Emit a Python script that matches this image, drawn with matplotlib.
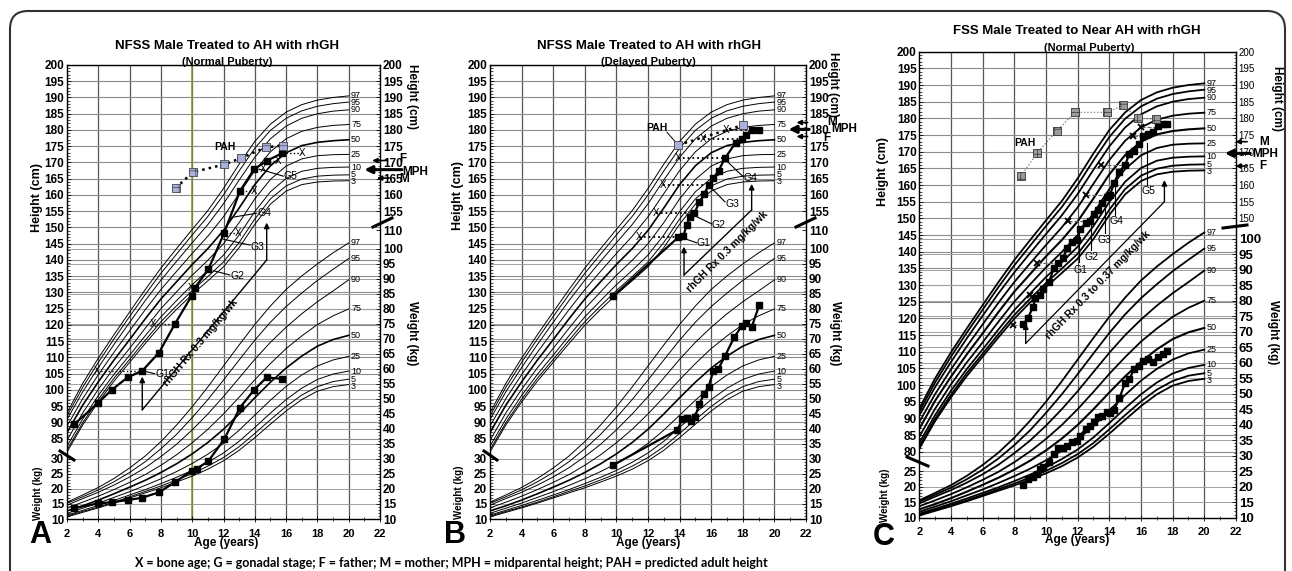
import matplotlib
matplotlib.use("Agg")
import matplotlib.pyplot as plt
import matplotlib.transforms as mtransforms
from matplotlib.lines import Line2D
from matplotlib.patches import FancyBboxPatch
from matplotlib.ticker import FixedLocator

plt.rcParams.update({
    "font.family": ["Liberation Sans", "DejaVu Sans"],
    "font.weight": "bold",
    "font.size": 8,
    "hatch.linewidth": 0.5,
})

W, H = 1292, 571

# ── CDC reference percentiles, boys 2-20 y ────────────────────────
ref_age = list(range(2, 21))
pct_labels = ["97", "95", "90", "75", "50", "25", "10", "5", "3"]

ht_p97 = [93.0, 102.0, 109.8, 117.0, 124.0, 130.9, 137.5, 143.5, 149.4, 155.2, 162.0, 169.5, 176.5, 181.8, 185.5, 187.8, 189.2, 190.0, 190.5]
ht_p95 = [92.0, 100.8, 108.5, 115.7, 122.6, 129.4, 135.9, 141.8, 147.7, 153.4, 160.0, 167.4, 174.4, 179.9, 183.6, 185.9, 187.3, 188.1, 188.6]
ht_p90 = [90.9, 99.4, 106.9, 114.0, 120.8, 127.5, 133.8, 139.6, 145.3, 150.9, 157.3, 164.6, 171.6, 177.3, 181.2, 183.6, 185.0, 185.8, 186.2]
ht_p75 = [88.9, 97.3, 104.7, 111.6, 118.2, 124.7, 130.9, 136.5, 142.0, 147.3, 153.3, 160.4, 167.5, 173.3, 177.3, 179.6, 180.8, 181.4, 181.7]
ht_p50 = [86.9, 95.3, 102.5, 109.2, 115.5, 121.9, 128.0, 133.3, 138.6, 143.5, 149.1, 156.0, 163.2, 169.0, 173.0, 175.2, 176.2, 176.7, 177.0]
ht_p25 = [84.5, 92.9, 100.2, 106.8, 112.8, 119.0, 125.0, 130.2, 135.3, 139.9, 145.0, 151.5, 158.8, 164.8, 168.9, 171.1, 172.1, 172.4, 172.5]
ht_p10 = [82.7, 91.0, 98.3, 104.8, 110.7, 116.7, 122.5, 127.5, 132.4, 136.8, 141.5, 147.7, 154.9, 161.0, 165.1, 167.3, 168.2, 168.5, 168.6]
ht_p5 = [81.6, 89.9, 97.1, 103.6, 109.4, 115.3, 121.0, 125.9, 130.6, 134.9, 139.4, 145.4, 152.6, 158.8, 162.8, 164.9, 165.8, 166.1, 166.2]
ht_p3 = [80.9, 89.2, 96.3, 102.7, 108.5, 114.3, 119.9, 124.8, 129.4, 133.6, 137.9, 143.8, 151.0, 157.2, 161.2, 163.2, 164.0, 164.3, 164.4]

wt_p97 = [15.6, 18.0, 20.5, 23.5, 27.0, 31.0, 35.8, 41.3, 47.4, 54.0, 61.0, 68.0, 74.8, 81.0, 86.5, 91.0, 95.0, 98.7, 102.0]
wt_p95 = [15.2, 17.4, 19.7, 22.4, 25.5, 29.1, 33.4, 38.2, 43.8, 49.8, 56.3, 63.0, 69.6, 75.6, 80.8, 85.3, 89.5, 93.2, 96.8]
wt_p90 = [14.6, 16.8, 18.9, 21.3, 24.0, 27.1, 30.8, 34.9, 39.7, 45.0, 50.8, 57.0, 63.2, 68.9, 73.9, 78.4, 82.4, 86.0, 89.7]
wt_p75 = [13.7, 15.6, 17.6, 19.8, 22.2, 24.8, 27.9, 31.4, 35.4, 39.9, 45.0, 50.6, 56.4, 61.8, 66.8, 71.0, 74.8, 77.7, 80.0]
wt_p50 = [12.7, 14.4, 16.3, 18.4, 20.6, 22.9, 25.5, 28.4, 31.7, 35.5, 39.9, 45.0, 50.4, 55.6, 60.3, 64.3, 67.6, 69.8, 71.2]
wt_p25 = [11.9, 13.6, 15.3, 17.2, 19.1, 21.2, 23.4, 25.8, 28.5, 31.6, 35.2, 39.6, 44.6, 49.6, 54.2, 58.0, 61.0, 63.0, 64.2]
wt_p10 = [11.3, 12.9, 14.5, 16.2, 18.0, 19.8, 21.8, 23.9, 26.2, 28.9, 32.0, 35.9, 40.5, 45.3, 49.8, 53.6, 56.5, 58.3, 59.3]
wt_p5 = [11.0, 12.5, 14.0, 15.6, 17.4, 19.2, 21.0, 23.0, 25.1, 27.6, 30.5, 34.1, 38.5, 43.1, 47.5, 51.3, 54.1, 55.8, 56.6]
wt_p3 = [10.7, 12.2, 13.7, 15.3, 17.0, 18.7, 20.4, 22.3, 24.3, 26.6, 29.4, 32.9, 37.1, 41.6, 46.0, 49.8, 52.6, 54.1, 54.8]

ht_curves = [ht_p97, ht_p95, ht_p90, ht_p75, ht_p50, ht_p25, ht_p10, ht_p5, ht_p3]
wt_curves = [wt_p97, wt_p95, wt_p90, wt_p75, wt_p50, wt_p25, wt_p10, wt_p5, wt_p3]

# ── Panel A: NFSS, normal puberty ─────────────────────────────────
a_age = [2.45, 3.96, 4.85, 5.88, 6.81, 7.88, 8.88, 9.97, 10.18, 11.03, 12.05, 13.05, 13.95, 14.76, 15.72]
a_ht = [89.4, 95.9, 100.0, 103.9, 105.9, 111.5, 120.2, 129.0, 131.5, 137.1, 148.4, 161.2, 167.9, 170.5, 172.8]
a_wt_age = [2.45, 3.96, 4.85, 5.88, 6.81, 7.88, 8.88, 9.97, 10.28, 11.03, 12.05, 13.05, 13.95, 14.76, 15.72]
a_wt = [13.6, 15.2, 15.6, 16.3, 17.1, 18.9, 22.2, 26.1, 26.7, 29.3, 36.6, 47.1, 53.0, 57.2, 56.7]
a_pah_age = [8.94, 10.03, 12.05, 13.1, 14.72, 15.78]
a_pah = [162.1, 167.0, 169.4, 171.3, 174.7, 175.2]
a_bone_age = [3.94, 7.47, 9.9, 12.95, 13.95, 14.55, 15.5, 17.0]
a_bone_chron = [6.81, 8.88, 10.18, 12.05, 13.05, 13.95, 14.76, 15.72]
a_bone_ht = [105.9, 120.2, 131.5, 148.4, 161.2, 167.9, 170.5, 172.8]
a_parents = {"F": 170.6, "MPH": 167.8, "M": 165.2}

# ── Panel B: NFSS, delayed puberty ────────────────────────────────
b_age = [9.81, 13.92, 14.24, 14.45, 14.66, 14.93, 15.25, 15.54, 15.86, 16.13, 16.47, 16.87, 17.55, 17.93, 18.2, 18.56, 19.04]
b_ht = [128.9, 147.0, 147.4, 150.8, 153.3, 154.4, 157.7, 160.2, 163.1, 165.1, 167.5, 171.3, 176.1, 177.1, 178.5, 180.0, 180.0]
b_wt_age = [9.81, 13.86, 14.17, 14.45, 14.72, 14.97, 15.25, 15.54, 15.84, 16.13, 16.45, 16.87, 17.46, 17.93, 18.2, 18.56, 19.04]
b_wt = [28.0, 39.7, 43.2, 43.6, 42.7, 43.9, 48.3, 51.6, 54.1, 59.3, 60.0, 64.3, 70.6, 74.3, 75.4, 73.9, 81.3]
b_pah_age = [13.92, 18.0]
b_pah = [175.4, 181.5]
b_bone_age = [11.45, 12.5, 12.97, 13.92, 15.46, 16.94]
b_bone_chron = [13.92, 14.93, 15.86, 16.87, 17.93, 18.56]
b_bone_ht = [147.0, 154.4, 163.1, 171.3, 177.1, 180.0]
b_parents = {"M": 182.3, "MPH": 180.2, "F": 178.0}

# ── Panel C: FSS, normal puberty ──────────────────────────────────
c_age = [8.57, 8.84, 9.2, 9.31, 9.62, 9.83, 10.19, 10.5, 10.78, 11.05, 11.35, 11.66, 11.94,
         12.15, 12.5, 12.78, 13.03, 13.31, 13.56, 13.83, 14.04, 14.29, 14.63, 14.99, 15.26,
         15.56, 15.89, 16.15, 16.46, 16.78, 17.05, 17.41, 17.66]
c_ht = [118.2, 120.0, 123.5, 126.0, 127.0, 128.7, 131.0, 135.0, 136.5, 138.0, 141.0, 143.0, 143.5,
        146.7, 148.5, 149.3, 151.3, 152.5, 154.5, 156.5, 157.0, 160.5, 164.0, 166.0, 169.2,
        170.3, 172.3, 174.7, 175.3, 176.0, 177.7, 178.2, 178.2]
c_wt_age = [8.57, 8.84, 9.2, 9.41, 9.62, 9.83, 10.19, 10.5, 10.78, 11.05, 11.35, 11.66, 11.94,
            12.15, 12.5, 12.78, 13.03, 13.31, 13.56, 13.83, 14.04, 14.29, 14.63, 14.99, 15.26,
            15.56, 15.89, 16.15, 16.46, 16.74, 17.05, 17.37, 17.66]
c_wt = [20.5, 22.5, 23.2, 24.0, 25.6, 26.5, 28.1, 30.5, 32.4, 32.6, 33.2, 34.5, 34.8,
        36.5, 38.5, 39.7, 41.0, 42.6, 42.8, 44.0, 43.7, 44.7, 48.5, 53.4, 54.6,
        57.9, 58.9, 60.5, 61.2, 60.3, 61.7, 62.8, 63.9]
c_pah_age = [8.42, 9.45, 10.67, 11.83, 13.87, 14.88, 15.79, 16.93]
c_pah = [162.7, 169.7, 176.2, 181.8, 181.8, 184.0, 180.0, 179.8]
c_bone_age = [7.89, 8.99, 9.42, 11.41, 12.53, 13.46, 15.47, 16.0]
c_bone_chron = [8.57, 9.62, 10.5, 12.78, 14.04, 14.99, 16.15, 17.05]
c_bone_ht = [118.0, 127.0, 136.5, 149.3, 157.0, 166.0, 174.7, 177.3]
c_parents = {"M": 173.0, "MPH": 169.5, "F": 165.7}

footer = ("X = bone age; G = gonadal stage; F = father; M = mother; "
          "MPH = midparental height; PAH = predicted adult height")

fig = plt.figure(figsize=(W / 100, H / 100), dpi=100)


def fx(x):
    return x / W


def fy(y):
    return 1 - y / H


def spread(vals, gap):
    # keep the end-of-curve labels from piling on top of each other
    out = list(vals)
    for i in range(1, len(out)):
        if out[i - 1] - out[i] < gap:
            out[i] = out[i - 1] - gap
    return out


def build_axes(left, top, right, bottom, ht_lo, wt_hi, ht_ticks, rh_ticks, wl_ticks,
               wr_ticks, wr_labels, rh_size, rh_weight, wr_size, curve_lw, mid_lw):
    ax = fig.add_axes([fx(left), fy(bottom), fx(right - left), (bottom - top) / H])
    ax.set_xlim(2, 22)
    ax.set_ylim(ht_lo, 200)
    axw = ax.twinx()
    axw.set_ylim(10, wt_hi)
    axr = ax.twinx()
    axr.set_ylim(ht_lo, 200)
    axwl = ax.twinx()
    axwl.set_ylim(10, wt_hi)
    axwl.yaxis.tick_left()

    ax.set_yticks(ht_ticks, [str(t) for t in ht_ticks], fontsize=8.5)
    ax.yaxis.set_minor_locator(FixedLocator(range(ht_ticks[0], 201)))
    axr.set_yticks(rh_ticks, [str(t) for t in rh_ticks], fontsize=rh_size, fontweight=rh_weight)
    axr.yaxis.set_minor_locator(FixedLocator(range(rh_ticks[0], 201)))
    axw.set_yticks(wr_ticks, wr_labels, fontsize=wr_size)
    axw.yaxis.set_minor_locator(FixedLocator(range(10, 101)))
    axwl.set_yticks(wl_ticks, [str(t) for t in wl_ticks], fontsize=8.5)
    axwl.yaxis.set_minor_locator(FixedLocator(range(10, wl_ticks[-1] + 1)))
    for a in (ax, axw, axr, axwl):
        a.tick_params(axis="y", which="major", direction="in", length=3, width=0.6, pad=2)
        a.tick_params(axis="y", which="minor", direction="in", length=1.8, width=0.5)
        for s in a.spines.values():
            s.set_linewidth(0.8)

    ax.set_xticks(range(2, 23, 2), [str(t) for t in range(2, 23, 2)],
                  fontsize=8, family=["Liberation Sans Narrow", "Liberation Sans"])
    ax.xaxis.set_minor_locator(FixedLocator(range(3, 22, 2)))
    ax.tick_params(axis="x", which="major", direction="inout", length=4, width=0.6, pad=5)
    ax.tick_params(axis="x", which="minor", direction="inout", length=3, width=0.5)

    # grid: 2-year verticals, height lines (5 cm), weight lines (5 kg)
    wtrans = mtransforms.blended_transform_factory(ax.transAxes, axw.transData)
    for a in range(4, 21, 2):
        ax.axvline(a, color="#555555", lw=0.9, zorder=1)
    for h in ht_ticks:
        ax.axhline(h, color="#8c8c8c", lw=0.8, zorder=1)
    for w in range(10, 101, 5):
        ax.add_line(Line2D([0, 1], [w, w], transform=wtrans, color="#a0a0a0", lw=0.7, zorder=1))

    # percentile curves with their end labels
    ht_gap = 7 * (200 - ht_lo) / (bottom - top)
    wt_gap = 7 * (wt_hi - 10) / (bottom - top)
    ht_lab_y = spread([c[-1] for c in ht_curves], ht_gap)
    wt_lab_y = spread([c[-1] for c in wt_curves], wt_gap)
    for i, (lab, hv, wv) in enumerate(zip(pct_labels, ht_curves, wt_curves)):
        lw = mid_lw if lab == "50" else curve_lw
        ax.plot(ref_age, hv, color="k", lw=lw, zorder=2)
        ax.plot(ref_age, wv, color="k", lw=lw, zorder=2, transform=axw.transData)
        ax.text(20.15, ht_lab_y[i], lab, fontsize=6.5, fontweight="normal", va="center", ha="left")
        ax.text(20.15, wt_lab_y[i], lab, fontsize=6.5, fontweight="normal", va="center", ha="left",
                transform=axw.transData)
    return ax, axw


def growth(ax, axw, age, ht, wt_age, wt):
    ax.plot(age, ht, "-s", color="k", lw=1.6, ms=5, zorder=6)
    ax.plot(wt_age, wt, "-s", color="k", lw=1.6, ms=5, zorder=6, transform=axw.transData)


def arrow(ax, x0, y0, x1, y1, lw=1.0, ms=8):
    ax.annotate("", xy=(x1, y1), xytext=(x0, y0), annotation_clip=False,
                arrowprops=dict(arrowstyle="-|>", color="k", lw=lw, mutation_scale=ms,
                                shrinkA=0, shrinkB=0))


def parents(ax, vals, tips, tails, text_pos):
    for key in vals:
        big = key == "MPH"
        arrow(ax, tails[key], vals[key], tips[key], vals[key], lw=2.2 if big else 1.2,
              ms=11 if big else 7)
        tx, ty = text_pos[key]
        ax.text(tx, ty, key, fontsize=8.5, ha="left", va="center", clip_on=False)


def glabel(ax, x0, y0, x1, y1, tx, ty, s, ha="left"):
    ax.plot([x0, x1], [y0, y1], color="k", lw=0.8, zorder=4)
    ax.text(tx, ty, s, fontsize=7.5, fontweight="normal", ha=ha, va="center", zorder=7)


def break_mark(x0, y0, x1, y1):
    fig.add_artist(Line2D([fx(x0), fx(x1)], [fy(y0), fy(y1)], color="k", lw=2.2))


def side_labels(cx, title, sub, ty, sy, hl, wl, hr, wr, age_xy, letter_xy, letter):
    fig.text(fx(cx[0]), fy(ty), title, fontsize=9.5, ha="center", va="center")
    fig.text(fx(cx[1]), fy(sy), sub, fontsize=8, ha="center", va="center")
    fig.text(fx(hl[0]), fy(hl[1]), "Height (cm)", fontsize=9, rotation=90, ha="center", va="center")
    fig.text(fx(wl[0]), fy(wl[1]), "Weight (kg)", fontsize=7, rotation=90, ha="center", va="center")
    fig.text(fx(hr[0]), fy(hr[1]), "Height (cm)", fontsize=8.5, rotation=270, ha="center", va="center")
    fig.text(fx(wr[0]), fy(wr[1]), "Weight (kg)", fontsize=8.5, rotation=270, ha="center", va="center")
    fig.text(fx(age_xy[0]), fy(age_xy[1]), "Age (years)", fontsize=8.5, ha="center", va="center",
             family=["Liberation Sans Narrow", "Liberation Sans"])
    fig.text(fx(letter_xy[0]), fy(letter_xy[1]), letter, fontsize=22, ha="center", va="center")


ab_ticks = list(range(85, 201, 5))
wr_ab = list(range(10, 101, 5)) + [106.3]
wr_ab_lab = [str(t) for t in range(10, 101, 5)] + ["110"]

# ── Panel A ───────────────────────────────────────────────────────
ax, axw = build_axes(67, 65, 380, 519, 60.3, 161.3, ab_ticks, list(range(155, 201, 5)),
                     list(range(10, 31, 5)), wr_ab, wr_ab_lab, 8.5, "bold", 8.5, 0.7, 1.2)
ax.axvline(10, color="#8f8f2a", lw=1.1, zorder=1.5)
for ba, ca, h in zip(a_bone_age, a_bone_chron, a_bone_ht):
    ax.plot([ba, ca], [h, h], ls=":", color="k", lw=1.0, zorder=3)
    ax.text(ba, h, "X", fontsize=7, fontweight="normal", ha="center", va="center", zorder=7)
ax.plot(a_pah_age, a_pah, ls=":", color="k", lw=1.8, zorder=4)
ax.scatter(a_pah_age, a_pah, marker="s", s=34, facecolor="#aab0dd", edgecolor="#444444",
           hatch="++", linewidths=0.6, zorder=7)
ax.text(12.1, 173.2, "PAH", fontsize=7.5, ha="center", va="bottom", zorder=7)
growth(ax, axw, a_age, a_ht, a_wt_age, a_wt)
glabel(ax, 6.95, 105.8, 7.6, 105.0, 7.65, 105.0, "G1")
glabel(ax, 11.35, 136.7, 12.4, 135.4, 12.45, 135.2, "G2")
glabel(ax, 11.99, 146.4, 13.69, 144.6, 13.72, 144.0, "G3")
glabel(ax, 12.52, 153.1, 14.12, 154.4, 14.15, 154.6, "G4")
glabel(ax, 14.33, 167.9, 15.82, 165.8, 15.85, 165.8, "G5")
arrow(ax, 6.81, 93.9, 6.81, 104.1)
ax.plot([6.81, 14.76], [93.9, 140.0], color="k", lw=1.0, zorder=4)
arrow(ax, 14.76, 140.0, 14.76, 151.5)
ax.text(10.55, 114.5, "rhGH Rx 0.3 mg/kg/wk", fontsize=7.5, rotation=50, ha="center",
        va="center", zorder=7)
parents(ax, a_parents, {"F": 21.5, "MPH": 21.0, "M": 21.8}, {"F": 22.4, "MPH": 23.4, "M": 22.6},
        {"F": (23.25, 171.2), "MPH": (23.45, 167.0), "M": (23.25, 164.9)})
side_labels((227, 227), "NFSS Male Treated to AH with rhGH", "(Normal Puberty)", 46, 62,
            (37, 198), (38, 493), (412, 97), (412, 333), (226, 543), (40, 535), "A")
break_mark(60, 451, 74, 460)
break_mark(373, 227, 392, 218)

# ── Panel B ───────────────────────────────────────────────────────
ax, axw = build_axes(490, 65, 806, 519, 60.3, 161.3, ab_ticks, list(range(155, 201, 5)),
                     list(range(10, 31, 5)), wr_ab, wr_ab_lab, 8.5, "bold", 8.5, 0.7, 1.2)
for ba, ca, h in zip(b_bone_age, b_bone_chron, b_bone_ht):
    ax.plot([ba, ca], [h, h], ls=":", color="k", lw=1.3, zorder=3)
    ax.text(ba, h, "X", fontsize=7, fontweight="normal", ha="center", va="center", zorder=7)
ax.plot(b_pah_age, b_pah, ls=":", color="k", lw=1.8, zorder=4)
ax.scatter(b_pah_age, b_pah, marker="s", s=34, facecolor="#aab0dd", edgecolor="#444444",
           linewidths=0.6, zorder=7)
ax.text(12.55, 180.5, "PAH", fontsize=7.5, ha="center", va="center", zorder=7)
ax.plot([13.2, 13.8], [179.3, 176.0], color="k", lw=0.7, zorder=4)
growth(ax, axw, b_age, b_ht, b_wt_age, b_wt)
glabel(ax, 14.24, 146.7, 15.08, 145.3, 15.1, 145.1, "G1")
glabel(ax, 14.87, 153.8, 16.03, 151.1, 16.05, 150.8, "G2")
glabel(ax, 15.82, 163.1, 16.87, 157.9, 16.9, 157.2, "G3")
glabel(ax, 16.87, 171.0, 18.03, 165.6, 18.05, 165.1, "G4")
arrow(ax, 14.28, 135.4, 14.28, 144.1)
ax.plot([14.28, 18.56], [135.4, 155.4], color="k", lw=1.0, zorder=4)
arrow(ax, 18.56, 155.4, 18.56, 163.4)
ax.text(17.0, 142.6, "rhGH Rx 0.3 mg/kg/wk", fontsize=7.5, rotation=45, ha="center",
        va="center", zorder=7)
parents(ax, b_parents, {"M": 21.4, "MPH": 20.9, "F": 21.4}, {"M": 22.1, "MPH": 22.2, "F": 22.1},
        {"M": (23.35, 182.4), "MPH": (23.6, 180.2), "F": (23.1, 177.6)})
side_labels((649, 648), "NFSS Male Treated to AH with rhGH", "(Delayed Puberty)", 46, 62,
            (458, 195), (459, 492), (833, 84), (835, 333), (648, 543), (455, 535), "B")
break_mark(484, 451, 497, 460)
break_mark(796, 227, 815, 218)

# ── Panel C ───────────────────────────────────────────────────────
ax, axw = build_axes(919.3, 51.7, 1236, 517.7, 60.2, 160.3, list(range(80, 201, 5)),
                     list(range(150, 201, 5)), list(range(10, 26, 5)),
                     list(range(10, 101, 5)), [str(t) for t in range(10, 101, 5)],
                     7, "normal", 9.5, 1.3, 1.5)
for ba, ca, h in zip(c_bone_age, c_bone_chron, c_bone_ht):
    ax.plot([ba, ca], [h, h], ls="--", color="#666666", lw=0.8, zorder=3)
    ax.plot(ba, h, marker="x", color="k", ms=4, mew=1.3, zorder=7)
ax.plot(c_pah_age, c_pah, ls=":", color="#777777", lw=0.9, zorder=4)
ax.scatter(c_pah_age, c_pah, marker="s", s=34, facecolor="#9c9c9c", edgecolor="#333333",
           hatch="++", linewidths=0.6, zorder=7)
ax.text(8.7, 172.5, "PAH", fontsize=7.5, ha="center", va="center", zorder=7)
growth(ax, axw, c_age, c_ht, c_wt_age, c_wt)
glabel(ax, 12.11, 147.5, 12.11, 137.0, 12.2, 134.5, "G1", ha="center")
glabel(ax, 12.83, 149.5, 12.83, 140.5, 12.9, 138.5, "G2", ha="center")
glabel(ax, 13.73, 155.0, 13.73, 145.5, 13.7, 143.5, "G3", ha="center")
glabel(ax, 14.36, 160.5, 14.36, 151.0, 14.45, 149.3, "G4", ha="center")
glabel(ax, 16.36, 172.5, 16.36, 160.0, 16.5, 158.3, "G5", ha="center")
arrow(ax, 8.72, 112.5, 8.72, 118.5)
ax.plot([8.72, 17.48], [112.5, 155.0], color="k", lw=0.9, zorder=4)
arrow(ax, 17.48, 155.0, 17.48, 161.5)
ax.text(13.3, 130.0, "rhGH Rx 0.3 to 0.37 mg/kg/wk", fontsize=7.5, rotation=46, ha="center",
        va="center", zorder=7)
parents(ax, c_parents, {"M": 21.96, "MPH": 21.3, "F": 21.96}, {"M": 22.7, "MPH": 22.9, "F": 22.7},
        {"M": (23.45, 173.0), "MPH": (23.0, 169.2), "F": (23.45, 165.6)})
side_labels((1077, 1089), "FSS Male Treated to Near AH with rhGH", "(Normal Puberty)", 31, 48,
            (883, 172), (885, 495), (1277, 99), (1273, 332), (1077, 540), (884, 537), "C")
break_mark(907, 457, 928, 466)
break_mark(1223, 228, 1247, 225)

# frame and footer
fig.add_artist(FancyBboxPatch((0.10, -0.2), 12.75, 5.80, boxstyle="round,pad=0,rounding_size=0.18",
                              transform=fig.dpi_scale_trans, fill=False, ec="#333333", lw=1.5))
fig.text(fx(451), fy(563), footer, fontsize=9.0, ha="center", va="center",
         family=["Lato", "DejaVu Sans"])

fig.savefig("out.png", dpi=100)
